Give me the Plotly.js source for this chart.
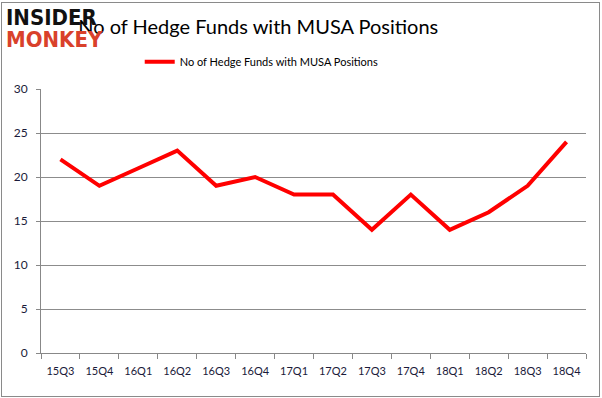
<!DOCTYPE html>
<html><head><meta charset="utf-8">
<script src="https://cdn.plot.ly/plotly-3.0.1.min.js"></script>
<style>body{margin:0;}#wrap{position:relative;width:602px;height:398px;}#chart{width:602px;height:398px;}
#frame{position:absolute;left:1px;top:2px;width:597px;height:393px;border:1px solid #8a8a8a;pointer-events:none;}</style>
</head><body><div id="wrap"><div id="chart"></div><div id="frame"></div></div>
<script>
const quarters = ["15Q3","15Q4","16Q1","16Q2","16Q3","16Q4","17Q1","17Q2","17Q3","17Q4","18Q1","18Q2","18Q3","18Q4"];
const hedgeFunds = [22,19,21,23,19,20,18,18,14,18,14,16,19,24];
const seriesName = "No of Hedge Funds with MUSA Positions";
const yTicks = [0,5,10,15,20,25,30];

const trace = {
  x: quarters, y: hedgeFunds, type: "scatter", mode: "lines", name: seriesName,
  line: {color: "#ff0000", width: 4}
};
const face = "Lato, Liberation Sans, sans-serif";
const layout = {
  width: 602, height: 398,
  margin: {l: 41, r: 16, t: 89, b: 45},
  paper_bgcolor: "#ffffff", plot_bgcolor: "#ffffff",
  font: {family: face, color: "#222"},
  title: {text: seriesName, x: 0.429, xanchor: "center", y: 0.932, yanchor: "middle",
    font: {family: face, size: 20, color: "#000"}},
  showlegend: true,
  legend: {orientation: "h", x: 0.405, xanchor: "center", y: 1.103, yanchor: "middle",
    font: {family: face, size: 11, color: "#000"}, bgcolor: "rgba(0,0,0,0)", itemwidth: 30},
  xaxis: {type: "category", range: [-0.5, 13.5], showgrid: false, showline: true, linecolor: "#888", linewidth: 1,
    ticks: "outside", tickson: "boundaries", ticklen: 5, tickcolor: "#888", ticklabelstandoff: 8, tickangle: 0,
    tickfont: {family: face, size: 11, color: "#1a1a3a"}},
  yaxis: {range: [0,30], tickvals: yTicks, showgrid: true, gridcolor: "#8c8c8c", gridwidth: 1,
    showline: true, linecolor: "#888", ticks: "outside", ticklen: 4, tickcolor: "#888", ticklabelstandoff: 6,
    zeroline: false, tickfont: {family: face, size: 12, color: "#1a1a3a"}},
  annotations: [
    {text: "<b>INSIDER</b>", xref: "paper", yref: "paper", x: -0.068, xanchor: "left", y: 1.269, yanchor: "middle",
     showarrow: false, font: {family: "DejaVu Sans Condensed, DejaVu Sans, sans-serif", size: 22, color: "#111"}},
    {text: "<b>MONKEY</b>", xref: "paper", yref: "paper", x: -0.068, xanchor: "left", y: 1.186, yanchor: "middle",
     showarrow: false, font: {family: "DejaVu Sans Condensed, DejaVu Sans, sans-serif", size: 22, color: "#d9412b"}}
  ]
};
Plotly.newPlot("chart", [trace], layout, {displayModeBar: false, staticPlot: true});
</script></body></html>
